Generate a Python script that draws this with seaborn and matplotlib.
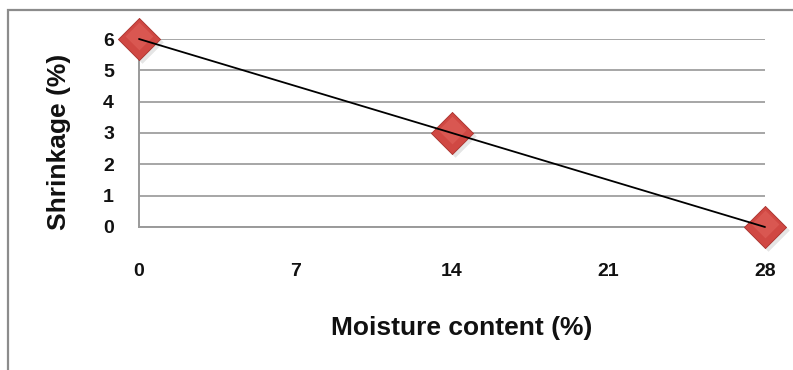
import matplotlib
matplotlib.use("Agg")
import matplotlib.pyplot as plt
from matplotlib.patches import Rectangle
import seaborn as sns
import pandas as pd

# Shrinkage of the samples against their moisture content
moisture = [0, 14, 28]
shrinkage = [6, 3, 0]
x_ticks = [0, 7, 14, 21, 28]
y_ticks = [0, 1, 2, 3, 4, 5, 6]

df = pd.DataFrame({"moisture": moisture, "shrinkage": shrinkage})

sns.set_theme(style="white")
plt.rcParams["font.family"] = ["Liberation Sans", "DejaVu Sans"]
plt.rcParams["font.weight"] = "bold"
plt.rcParams["axes.labelweight"] = "bold"

fig = plt.figure(figsize=(7.93, 3.70), dpi=100)
ax = fig.add_axes([139 / 793, 1 - 227 / 370, (765 - 139) / 793, (227 - 39) / 370])

# outer chart frame
fig.patches.append(Rectangle((7.5 / 793, -0.1), 1.2, 1 - 9.5 / 370 + 0.1,
                             transform=fig.transFigure, fill=False,
                             edgecolor="#8c8c8c", linewidth=1.6))

# soft shadow under the markers
ax.scatter([m + 0.12 for m in moisture], [s - 0.1 for s in shrinkage],
           marker="D", s=470, color="#000000", alpha=0.10, linewidths=0,
           zorder=2, clip_on=False)
sns.scatterplot(data=df, x="moisture", y="shrinkage", ax=ax, marker="D", s=460,
                color="#D04843", edgecolor="#A8302B", linewidth=0.6,
                zorder=3, clip_on=False, legend=False)
# lighter upper facet for a bevelled look
ax.scatter(moisture, [s + 0.08 for s in shrinkage], marker="D", s=200,
           color="#E0625C", linewidths=0, alpha=0.6, zorder=3.5, clip_on=False)
sns.lineplot(data=df, x="moisture", y="shrinkage", ax=ax, color="black",
             linewidth=1.3, zorder=4, legend=False)
for line in ax.lines:
    line.set_clip_on(False)

ax.set_xlim(0, 28)
ax.set_ylim(0, 6)
ax.set_xticks(x_ticks)
ax.set_yticks(y_ticks)
ax.set_xticklabels([str(v) for v in x_ticks], fontsize=14, fontweight="bold")
ax.set_yticklabels([str(v) for v in y_ticks], fontsize=14, fontweight="bold")
ax.tick_params(axis="x", length=0, pad=26, colors="#111111")
ax.tick_params(axis="y", length=0, pad=18, colors="#111111")

ax.yaxis.grid(True, color="#a6a6a6", linewidth=1.4)
ax.xaxis.grid(False)
ax.set_axisbelow(True)
for side in ["top", "right"]:
    ax.spines[side].set_visible(False)
for side in ["left", "bottom"]:
    ax.spines[side].set_color("#9a9a9a")
    ax.spines[side].set_linewidth(1.4)

ax.set_xlabel("Moisture content (%)", fontsize=19, fontweight="bold",
              labelpad=26, color="#111111")
ax.set_ylabel("Shrinkage (%)", fontsize=19, fontweight="bold", color="#111111")
ax.xaxis.label.set_x(0.516)
ax.yaxis.set_label_coords(-0.108, 0.452)

fig.savefig("out.png", dpi=100)
